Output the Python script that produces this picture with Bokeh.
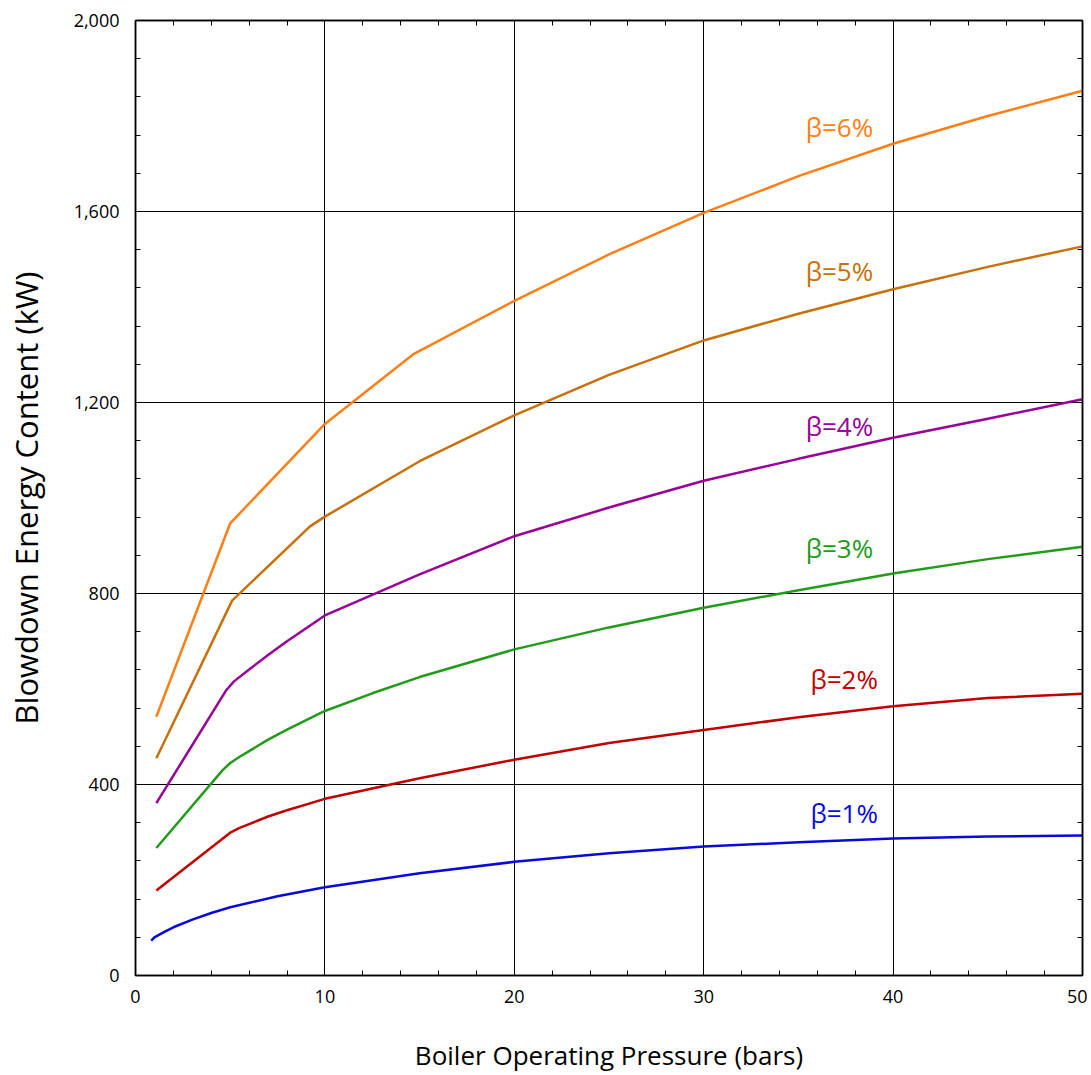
from bokeh.plotting import figure
from bokeh.models import (Range1d, LinearAxis, SingleIntervalTicker, NumeralTickFormatter,
                          Label, CustomJSTickFormatter)
from bokeh.embed import file_html
from bokeh.resources import INLINE

# ---- data ----
b1_x = [0.83, 1.0, 1.5, 2, 3, 4, 5, 7.5, 10, 15, 20, 25, 30, 35, 40, 45, 50]
b1_y = [73, 80, 91, 101, 117, 131, 143, 166, 185, 214, 238, 256, 270, 279, 287, 291, 293]

b2_x = [1.1, 5.0, 5.5, 6, 7, 8, 10, 15, 20, 25, 30, 35, 40, 45, 50]
b2_y = [178, 299, 309, 317, 333, 346, 370, 413, 452, 487, 514, 541, 564, 581, 590]

b3_x = [1.1, 4.6, 5.0, 5.5, 6, 7, 8, 10, 12.5, 15, 20, 25, 30, 35, 40, 45, 50]
b3_y = [267, 430, 445, 458, 470, 494, 515, 554, 591, 625, 683, 729, 770, 807, 842, 872, 898]

b4_x = [1.1, 4.8, 5.2, 6, 7, 8, 10, 15, 20, 25, 30, 35, 40, 45, 50]
b4_y = [361, 598, 616, 641, 671, 700, 754, 840, 920, 980, 1036, 1082, 1126, 1166, 1207]

b5_x = [1.1, 5.1, 9.2, 10, 15, 20, 25, 30, 35, 40, 45, 50]
b5_y = [455, 785, 940, 961, 1077, 1173, 1258, 1330, 1386, 1437, 1484, 1527]

b6_x = [1.1, 5.0, 10, 14.7, 20, 25, 30, 35, 40, 45, 50]
b6_y = [542, 947, 1155, 1302, 1413, 1510, 1597, 1674, 1742, 1800, 1853]

series_names = ["β=1%", "β=2%", "β=3%", "β=4%", "β=5%", "β=6%"]
series_colors = ["#0A0AD8", "#C00000", "#229A1A", "#990099", "#C8700A", "#FF7F16"]

x_title = "Boiler Operating Pressure (bars)"
y_title = "Blowdown Energy Content (kW)"

x_ticks_interval = 10
y_ticks_interval = 400

FONT = "Open Sans"

p = figure(width=1087, height=1075, output_backend="svg", toolbar_location=None,
           x_range=Range1d(0, 50), y_range=Range1d(0, 2000),
           min_border_left=135, min_border_top=20, min_border_right=5, min_border_bottom=100)
p.background_fill_color = "white"
p.border_fill_color = "white"
p.outline_line_color = "black"
p.outline_line_width = 1.5

xt = SingleIntervalTicker(interval=x_ticks_interval, num_minor_ticks=5)
yt = SingleIntervalTicker(interval=y_ticks_interval, num_minor_ticks=5)

p.xaxis.ticker = xt
p.yaxis.ticker = yt
p.yaxis.formatter = NumeralTickFormatter(format="0,0")

for ax in (p.xaxis[0], p.yaxis[0]):
    ax.axis_line_color = "black"
    ax.axis_line_width = 1.5
    ax.major_tick_in = 6
    ax.major_tick_out = 0
    ax.minor_tick_in = 5
    ax.minor_tick_out = 0
    ax.major_tick_line_color = "black"
    ax.minor_tick_line_color = "black"
    ax.major_label_text_font = FONT
    ax.major_label_text_font_size = "18px"
    ax.major_label_text_color = "black"
    ax.axis_label_text_font = FONT
    ax.axis_label_text_font_style = "normal"
    ax.axis_label_text_color = "black"

p.xaxis.axis_label = x_title
p.yaxis.axis_label = y_title
p.xaxis.axis_label_text_font_size = "26px"
p.yaxis.axis_label_text_font_size = "31px"
p.xaxis.major_label_standoff = 14
p.yaxis.major_label_standoff = 16
p.xaxis.axis_label_standoff = 31
p.yaxis.axis_label_standoff = 24

blank = CustomJSTickFormatter(code="return '';")
for side in ("right", "above"):
    t = SingleIntervalTicker(interval=x_ticks_interval if side == "above" else y_ticks_interval,
                             num_minor_ticks=5)
    ax = LinearAxis(ticker=t, formatter=blank, major_label_text_font_size="1px",
                    major_label_standoff=0,
                    axis_line_color="black", axis_line_width=1.5,
                    major_tick_in=6, major_tick_out=0, minor_tick_in=5, minor_tick_out=0,
                    major_tick_line_color="black", minor_tick_line_color="black")
    p.add_layout(ax, side)

p.xgrid.ticker = xt
p.ygrid.ticker = yt
p.xgrid.grid_line_color = "black"
p.ygrid.grid_line_color = "black"
p.xgrid.grid_line_width = 1
p.ygrid.grid_line_width = 1

xs = [b1_x, b2_x, b3_x, b4_x, b5_x, b6_x]
ys = [b1_y, b2_y, b3_y, b4_y, b5_y, b6_y]
for x, y, c in zip(xs, ys, series_colors):
    p.line(x, y, line_color=c, line_width=2.5)

# label anchors (right edge x, baseline y)
label_x = [39.2, 39.2, 38.95, 38.95, 38.95, 38.95]
label_y = [340, 621, 895, 1150, 1475, 1776]
for name, c, lx, ly in zip(series_names, series_colors, label_x, label_y):
    p.add_layout(Label(x=lx, y=ly, text=name, text_color=c, text_font=FONT,
                       text_font_size="26px", text_align="right", text_baseline="alphabetic"))

open("out.html", "w").write(file_html(p, INLINE))
